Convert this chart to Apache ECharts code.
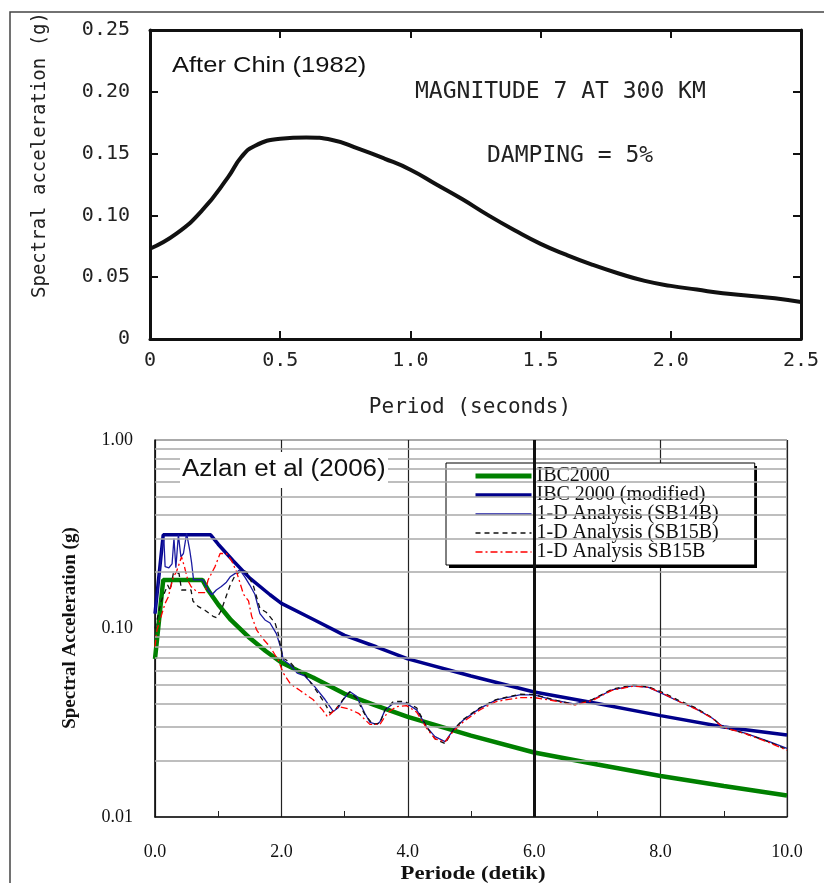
<!DOCTYPE html>
<html>
<head>
<meta charset="utf-8">
<script src="https://cdn.jsdelivr.net/npm/echarts@6/dist/echarts.min.js"></script>
<style>
html,body{margin:0;padding:0;background:#fff;}
#main{width:824px;height:883px;}
</style>
</head>
<body>
<div id="main"></div>
<script>
'use strict';

//上图：Chin (1982)
var chinPeriod = [0, 0.1, 0.2, 0.3, 0.35, 0.4, 0.5, 0.6, 0.7, 0.8, 0.9, 1.0, 1.1, 1.2, 1.3, 1.4, 1.5, 1.6, 1.7, 1.8, 1.9, 2.0, 2.1, 2.2, 2.3, 2.4, 2.5];
var chinSa = [0.073, 0.085, 0.104, 0.131, 0.147, 0.156, 0.162, 0.163, 0.161, 0.154, 0.146, 0.137, 0.125, 0.113, 0.100, 0.088, 0.077, 0.068, 0.060, 0.053, 0.047, 0.043, 0.040, 0.037, 0.035, 0.033, 0.030];

//下图：Azlan et al (2006)
var ibcPeriod = [0, 0.13, 0.75, 0.85, 1.0, 1.2, 1.5, 1.75, 2.0, 2.25, 2.5, 3.0, 3.5, 4.0, 5.0, 6.0, 7.0, 8.0, 9.0, 10.0];
var ibcSa = [0.069, 0.181, 0.181, 0.158, 0.134, 0.111, 0.089, 0.076, 0.066, 0.060, 0.055, 0.045, 0.039, 0.034, 0.027, 0.022, 0.019, 0.0165, 0.0146, 0.013];

var modPeriod = [0, 0.13, 0.88, 1.0, 1.24, 1.5, 1.82, 2.0, 2.5, 3.0, 3.5, 4.0, 5.0, 6.0, 7.0, 8.0, 9.0, 10.0];
var modSa = [0.12, 0.314, 0.314, 0.28, 0.228, 0.185, 0.151, 0.136, 0.112, 0.092, 0.080, 0.069, 0.056, 0.046, 0.040, 0.0345, 0.030, 0.0272];

var sb14Period = [0, 0.05, 0.11, 0.14, 0.16, 0.22, 0.27, 0.30, 0.33, 0.37, 0.41, 0.45, 0.50, 0.55, 0.58, 0.61, 0.76, 0.84, 0.90, 0.97, 1.05, 1.13, 1.19, 1.27, 1.34, 1.42, 1.50, 1.58, 1.66, 1.74, 1.82, 1.92, 2.0, 2.03, 2.14, 2.25, 2.37, 2.53, 2.69, 2.82, 2.90, 2.98, 3.08, 3.19, 3.32, 3.40, 3.51, 3.56, 3.64, 3.77, 3.98, 4.14, 4.30, 4.43, 4.59, 4.72, 4.88, 5.14, 5.40, 5.77, 6.0, 6.29, 6.63, 6.92, 7.23, 7.57, 7.81, 8.02, 8.29, 8.55, 8.82, 8.98, 9.35, 9.72, 10.0];
var sb14Sa = [0.12, 0.167, 0.27, 0.30, 0.213, 0.21, 0.22, 0.30, 0.21, 0.314, 0.24, 0.25, 0.32, 0.26, 0.222, 0.181, 0.181, 0.160, 0.151, 0.160, 0.167, 0.176, 0.188, 0.196, 0.205, 0.188, 0.170, 0.152, 0.120, 0.111, 0.107, 0.094, 0.077, 0.068, 0.064, 0.058, 0.056, 0.049, 0.042, 0.0363, 0.038, 0.042, 0.0463, 0.0437, 0.0355, 0.0318, 0.031, 0.032, 0.037, 0.040, 0.040, 0.037, 0.030, 0.0267, 0.0251, 0.029, 0.0327, 0.0377, 0.0418, 0.0444, 0.0444, 0.0418, 0.0398, 0.0418, 0.0472, 0.0497, 0.0487, 0.0453, 0.041, 0.0377, 0.0334, 0.0302, 0.0278, 0.0251, 0.0231];

var sb15Period = [0, 0.1, 0.2, 0.24, 0.29, 0.38, 0.42, 0.57, 0.60, 0.68, 0.79, 0.92, 0.98, 1.05, 1.10, 1.19, 1.27, 1.38, 1.45, 1.56, 1.66, 1.76, 1.90, 1.95, 2.02, 2.14, 2.25, 2.37, 2.53, 2.69, 2.77, 2.85, 3.0, 3.08, 3.19, 3.32, 3.45, 3.56, 3.64, 3.77, 3.95, 4.14, 4.30, 4.43, 4.59, 4.72, 4.88, 5.14, 5.40, 5.77, 6.0, 6.29, 6.63, 6.92, 7.23, 7.57, 7.81, 8.02, 8.29, 8.55, 8.82, 8.98, 9.35, 9.72, 10.0];
var sb15Sa = [0.10, 0.14, 0.17, 0.16, 0.196, 0.196, 0.16, 0.16, 0.14, 0.131, 0.125, 0.116, 0.114, 0.125, 0.140, 0.170, 0.192, 0.204, 0.20, 0.167, 0.128, 0.122, 0.107, 0.094, 0.070, 0.066, 0.060, 0.057, 0.048, 0.040, 0.0355, 0.037, 0.043, 0.046, 0.0425, 0.035, 0.031, 0.0315, 0.037, 0.041, 0.041, 0.038, 0.030, 0.026, 0.0245, 0.029, 0.033, 0.038, 0.042, 0.0448, 0.0446, 0.042, 0.0395, 0.042, 0.0476, 0.0502, 0.049, 0.046, 0.0415, 0.038, 0.0336, 0.030, 0.0276, 0.025, 0.0228];

var sb15rPeriod = [0, 0.03, 0.16, 0.21, 0.29, 0.34, 0.42, 0.47, 0.52, 0.57, 0.68, 0.79, 0.84, 0.95, 1.03, 1.13, 1.21, 1.29, 1.40, 1.48, 1.53, 1.61, 1.71, 1.82, 1.95, 2.03, 2.14, 2.29, 2.50, 2.65, 2.73, 2.90, 3.06, 3.22, 3.40, 3.56, 3.67, 3.82, 3.98, 4.14, 4.30, 4.43, 4.59, 4.72, 4.88, 5.14, 5.40, 5.77, 6.0, 6.29, 6.63, 6.92, 7.23, 7.57, 7.81, 8.02, 8.29, 8.55, 8.82, 8.98, 9.35, 9.72, 10.0];
var sb15rSa = [0.08, 0.098, 0.136, 0.147, 0.188, 0.20, 0.24, 0.21, 0.18, 0.167, 0.155, 0.155, 0.181, 0.213, 0.25, 0.25, 0.23, 0.20, 0.152, 0.14, 0.116, 0.098, 0.088, 0.080, 0.068, 0.058, 0.051, 0.047, 0.042, 0.037, 0.034, 0.0385, 0.0375, 0.0355, 0.031, 0.031, 0.0355, 0.0385, 0.039, 0.036, 0.0295, 0.026, 0.025, 0.0285, 0.032, 0.037, 0.041, 0.043, 0.043, 0.0415, 0.0392, 0.0415, 0.047, 0.0495, 0.0487, 0.0455, 0.041, 0.0375, 0.0334, 0.030, 0.0276, 0.0248, 0.0226];

//对数坐标的次网格线
var logGridLevels = [0.02, 0.03, 0.04, 0.05, 0.06, 0.07, 0.08, 0.09, 0.2, 0.3, 0.4, 0.5, 0.6, 0.7, 0.8, 0.9];

var legendNames = ['IBC2000', 'IBC 2000 (modified)', '1-D Analysis (SB14B)', '1-D Analysis (SB15B)', '1-D Analysis SB15B'];

var monoFont = 'DejaVu Sans Mono';
var serifFont = 'Liberation Serif';

//组合 x,y 数组
var zipData = function(xs, ys){
	var out = [];
	for(var i = 0; i < xs.length; i++){
		out.push([xs[i], ys[i]]);
	}
	return out;
};

var gridMarks = [];
logGridLevels.forEach(function(v){
	gridMarks.push({yAxis: v});
});

//图例线宽
var legendWidths = [5, 3.5, 1.5, 1.5, 1.5];
var legendData = legendNames.map(function(n, i){
	return {name: n, lineStyle: {width: legendWidths[i]}};
});

var myChart = echarts.init(document.getElementById('main'));

//上图四边框的公共设置
var frameLine = {show: true, onZero: false, lineStyle: {color: '#111', width: 3}};
var frameTick = {show: true, inside: true, length: 8, lineStyle: {color: '#111', width: 2}};

var option = {
	animation: false,
	grid: [
		{left: 150, top: 30, width: 651, height: 309},
		{left: 155, top: 440, width: 632, height: 377, show: true, borderColor: '#666', borderWidth: 1}
	],
	legend: {
		data: legendData,
		orient: 'vertical',
		left: 446,
		top: 463,
		padding: [3, 36, 3, 27],
		itemWidth: 56,
		itemHeight: 14,
		itemGap: -1,
		backgroundColor: '#fff',
		borderColor: '#000',
		borderWidth: 1,
		borderRadius: 0,
		selectedMode: false,
		itemStyle: {opacity: 0},
		textStyle: {fontFamily: serifFont, fontSize: 20, color: '#111'}
	},
	xAxis: [
		{
			gridIndex: 0, type: 'value', min: 0, max: 2.5, interval: 0.5,
			axisLine: frameLine,
			axisTick: frameTick,
			splitLine: {show: false},
			axisLabel: {
				margin: 12, color: '#222', fontFamily: monoFont, fontSize: 20,
				formatter: function(v){ return v === 0 ? '0' : v.toFixed(1); }
			}
		},
		{
			gridIndex: 0, type: 'value', position: 'top', min: 0, max: 2.5, interval: 0.5,
			axisLine: frameLine,
			axisTick: frameTick,
			splitLine: {show: false},
			axisLabel: {show: false}
		},
		{
			gridIndex: 1, type: 'value', min: 0, max: 10, interval: 2,
			axisLine: {onZero: false, lineStyle: {color: '#111', width: 1.5}},
			axisTick: {show: false, inside: true},
			minorTick: {show: true, splitNumber: 2, length: 6, lineStyle: {color: '#222', width: 1}},
			splitLine: {show: true, lineStyle: {color: '#222', width: 1.2}},
			axisLabel: {
				margin: 26, color: '#111', fontFamily: serifFont, fontSize: 18,
				formatter: function(v){ return v.toFixed(1); }
			}
		}
	],
	yAxis: [
		{
			gridIndex: 0, type: 'value', min: 0, max: 0.25, interval: 0.05,
			axisLine: frameLine,
			axisTick: frameTick,
			splitLine: {show: false},
			axisLabel: {
				margin: 20, color: '#222', fontFamily: monoFont, fontSize: 20,
				formatter: function(v){ return v === 0 ? '0' : v.toFixed(2); }
			}
		},
		{
			gridIndex: 0, type: 'value', position: 'right', min: 0, max: 0.25, interval: 0.05,
			axisLine: frameLine,
			axisTick: frameTick,
			splitLine: {show: false},
			axisLabel: {show: false}
		},
		{
			gridIndex: 1, type: 'log', logBase: 10, min: 0.01, max: 1,
			axisLine: {show: true, onZero: false, lineStyle: {color: '#111', width: 1.5}},
			axisTick: {show: false},
			splitLine: {show: true, lineStyle: {color: '#a8a8a8', width: 1.5}},
			axisLabel: {
				margin: 22, color: '#111', fontFamily: serifFont, fontSize: 18,
				formatter: function(v){ return v.toFixed(2); }
			}
		}
	],
	series: [
		{
			name: 'Chin 1982', type: 'line', xAxisIndex: 0, yAxisIndex: 0,
			smooth: true, symbol: 'none',
			lineStyle: {color: '#111', width: 4},
			data: zipData(chinPeriod, chinSa)
		},
		//网格线
		{
			name: 'grid', type: 'line', xAxisIndex: 2, yAxisIndex: 2, z: 1,
			symbol: 'none', lineStyle: {opacity: 0},
			data: [[0, 0.5]],
			markLine: {
				silent: true, symbol: 'none', label: {show: false},
				lineStyle: {color: '#a8a8a8', width: 1.5, type: 'solid'},
				data: gridMarks.concat([{xAxis: 6, lineStyle: {color: '#111', width: 3}}])
			}
		},
		{
			name: 'IBC2000', type: 'line', xAxisIndex: 2, yAxisIndex: 2, z: 3,
			symbol: 'none', lineStyle: {color: '#008000', width: 4.5},
			data: zipData(ibcPeriod, ibcSa)
		},
		{
			name: 'IBC 2000 (modified)', type: 'line', xAxisIndex: 2, yAxisIndex: 2, z: 3,
			symbol: 'none', lineStyle: {color: '#00008b', width: 3.5},
			data: zipData(modPeriod, modSa)
		},
		{
			name: '1-D Analysis (SB14B)', type: 'line', xAxisIndex: 2, yAxisIndex: 2, z: 4,
			symbol: 'none', lineStyle: {color: '#1a1aa0', width: 1.3},
			data: zipData(sb14Period, sb14Sa)
		},
		{
			name: '1-D Analysis (SB15B)', type: 'line', xAxisIndex: 2, yAxisIndex: 2, z: 4,
			symbol: 'none', lineStyle: {color: '#111', width: 1.3, type: [5, 4]},
			data: zipData(sb15Period, sb15Sa)
		},
		{
			name: '1-D Analysis SB15B', type: 'line', xAxisIndex: 2, yAxisIndex: 2, z: 4,
			symbol: 'none', lineStyle: {color: '#ff0000', width: 1.3, type: [7, 3, 2, 3]},
			data: zipData(sb15rPeriod, sb15rSa)
		}
	],
	graphic: [
		//外框（上边和左边）
		{type: 'polyline', silent: true, z: 0,
			shape: {points: [[10, 895], [10, 12], [824, 12]]},
			style: {fill: null, stroke: '#444', lineWidth: 1.5}},
		{type: 'text', x: 40, y: 155, rotation: Math.PI / 2, z: 10,
			style: {text: 'Spectral acceleration (g)', font: '19px "' + monoFont + '"', fill: '#222', textAlign: 'center', textVerticalAlign: 'middle'}},
		{type: 'text', x: 470, y: 408, z: 10,
			style: {text: 'Period (seconds)', font: '21px "' + monoFont + '"', fill: '#222', textAlign: 'center', textVerticalAlign: 'middle'}},
		{type: 'text', x: 172, y: 66, scaleX: 1.16, z: 10,
			style: {text: 'After Chin (1982)', font: '22px "Liberation Sans"', fill: '#111', textAlign: 'left', textVerticalAlign: 'middle'}},
		{type: 'text', x: 415, y: 92, z: 10,
			style: {text: 'MAGNITUDE 7 AT 300 KM', font: '23px "' + monoFont + '"', fill: '#222', textAlign: 'left', textVerticalAlign: 'middle'}},
		{type: 'text', x: 487, y: 156, z: 10,
			style: {text: 'DAMPING = 5%', font: '23px "' + monoFont + '"', fill: '#222', textAlign: 'left', textVerticalAlign: 'middle'}},
		//图例阴影
		{type: 'rect', left: 449, top: 466, z: 1, silent: true,
			shape: {x: 0, y: 0, width: 308, height: 102},
			style: {fill: '#000', stroke: null}},
		//Azlan 标题框
		{type: 'rect', left: 180, top: 452, z: 10, silent: true,
			shape: {x: 0, y: 0, width: 208, height: 36},
			style: {fill: '#fff', stroke: null}},
		{type: 'text', x: 182, y: 470, scaleX: 1.13, z: 11,
			style: {text: 'Azlan et al (2006)', font: '23px "Liberation Sans"', fill: '#111', textAlign: 'left', textVerticalAlign: 'middle'}},
		{type: 'text', x: 70, y: 628, rotation: Math.PI / 2, z: 10,
			style: {text: 'Spectral Acceleration (g)', font: 'bold 19px "' + serifFont + '"', fill: '#111', textAlign: 'center', textVerticalAlign: 'middle'}},
		{type: 'text', x: 473, y: 874, scaleX: 1.2, z: 10,
			style: {text: 'Periode (detik)', font: 'bold 19px "' + serifFont + '"', fill: '#111', textAlign: 'center', textVerticalAlign: 'middle'}}
	]
};

myChart.setOption(option);
</script>
</body>
</html>
